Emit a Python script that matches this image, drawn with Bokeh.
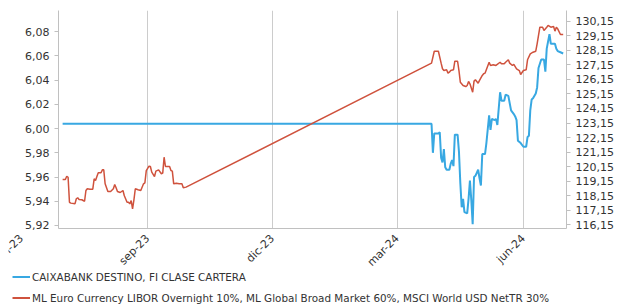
import pandas as pd
from math import pi
from bokeh.plotting import figure
from bokeh.layouts import column
from bokeh.models import (Range1d, LinearAxis, FixedTicker, CustomJSTickFormatter,
                          Legend, LegendItem, Label)
from bokeh.embed import file_html
from bokeh.resources import INLINE

fund_name = "CAIXABANK DESTINO, FI CLASE CARTERA"
bench_name = "ML Euro Currency LIBOR Overnight 10%, ML Global Broad Market 60%, MSCI World USD NetTR 30%"

fund_dates = [
    "2023-07-01", "2024-03-26", "2024-03-27", "2024-03-28", "2024-03-31",
    "2024-04-01", "2024-04-02", "2024-04-03", "2024-04-04", "2024-04-05", "2024-04-06",
    "2024-04-08", "2024-04-09", "2024-04-10", "2024-04-11", "2024-04-12", "2024-04-14",
    "2024-04-15", "2024-04-16", "2024-04-17", "2024-04-18", "2024-04-19", "2024-04-21",
    "2024-04-22", "2024-04-23", "2024-04-24", "2024-04-25", "2024-04-26", "2024-04-27",
    "2024-04-29", "2024-04-30",
    "2024-05-01", "2024-05-02", "2024-05-04", "2024-05-05", "2024-05-07", "2024-05-08",
    "2024-05-09", "2024-05-11", "2024-05-12", "2024-05-13", "2024-05-15", "2024-05-16",
    "2024-05-18", "2024-05-19", "2024-05-21", "2024-05-23", "2024-05-25", "2024-05-26",
    "2024-05-27", "2024-05-28", "2024-05-30",
    "2024-06-01", "2024-06-03", "2024-06-04", "2024-06-05", "2024-06-06", "2024-06-07",
    "2024-06-08", "2024-06-10", "2024-06-11", "2024-06-12", "2024-06-14", "2024-06-16",
    "2024-06-17", "2024-06-18", "2024-06-19", "2024-06-20", "2024-06-21", "2024-06-23",
    "2024-06-24", "2024-06-25", "2024-06-26", "2024-06-28", "2024-06-30",
]
fund_values = [
    6.004, 6.004, 5.980, 5.996, 5.996,
    5.997, 5.976, 5.972, 5.983, 5.968, 5.966,
    5.966, 5.971, 5.974, 5.969, 5.995, 5.995,
    5.981, 5.955, 5.935, 5.942, 5.931, 5.930,
    5.942, 5.957, 5.941, 5.921, 5.960, 5.961,
    5.966, 5.959,
    5.953, 5.979, 5.979, 5.988, 6.011, 5.999,
    6.008, 6.007, 6.008, 6.003, 6.030, 6.023,
    6.023, 6.028, 6.027, 6.015, 6.012, 6.010,
    6.007, 5.990, 5.988,
    5.985, 5.985, 5.993, 5.994, 6.015, 6.024,
    6.025, 6.029, 6.034, 6.050, 6.057, 6.057,
    6.047, 6.066, 6.072, 6.078, 6.070, 6.070,
    6.070, 6.066, 6.064, 6.063, 6.062,
]

bench_dates = [
    "2023-07-01", "2023-07-03", "2023-07-04", "2023-07-05", "2023-07-06", "2023-07-07",
    "2023-07-10", "2023-07-11", "2023-07-12", "2023-07-13", "2023-07-15", "2023-07-17",
    "2023-07-18", "2023-07-19", "2023-07-21", "2023-07-23", "2023-07-24", "2023-07-25",
    "2023-07-26", "2023-07-27", "2023-07-29", "2023-07-30", "2023-07-31",
    "2023-08-01", "2023-08-03", "2023-08-05", "2023-08-07", "2023-08-08", "2023-08-09",
    "2023-08-10", "2023-08-12", "2023-08-14", "2023-08-15", "2023-08-17", "2023-08-18",
    "2023-08-19", "2023-08-20", "2023-08-21", "2023-08-22", "2023-08-23", "2023-08-25",
    "2023-08-27", "2023-08-29", "2023-08-30", "2023-08-31",
    "2023-09-02", "2023-09-03", "2023-09-04", "2023-09-06", "2023-09-07", "2023-09-09",
    "2023-09-11", "2023-09-12", "2023-09-13", "2023-09-14", "2023-09-17", "2023-09-18",
    "2023-09-19", "2023-09-20", "2023-09-22", "2023-09-24", "2023-09-26", "2023-09-27",
    "2023-09-29",
    "2024-03-26", "2024-03-28", "2024-03-31",
    "2024-04-02", "2024-04-03", "2024-04-04", "2024-04-06", "2024-04-07", "2024-04-08",
    "2024-04-09", "2024-04-11", "2024-04-12", "2024-04-14", "2024-04-15", "2024-04-16",
    "2024-04-18", "2024-04-20", "2024-04-21", "2024-04-22", "2024-04-23", "2024-04-25",
    "2024-04-26", "2024-04-27", "2024-04-29", "2024-04-30",
    "2024-05-02", "2024-05-03", "2024-05-04", "2024-05-07", "2024-05-08", "2024-05-10",
    "2024-05-12", "2024-05-15", "2024-05-16", "2024-05-18", "2024-05-19", "2024-05-21",
    "2024-05-22", "2024-05-24", "2024-05-25", "2024-05-27", "2024-05-29", "2024-05-30",
    "2024-06-01", "2024-06-03", "2024-06-04", "2024-06-06", "2024-06-08", "2024-06-10",
    "2024-06-11", "2024-06-13", "2024-06-15", "2024-06-16", "2024-06-18", "2024-06-19",
    "2024-06-21", "2024-06-23", "2024-06-24", "2024-06-25", "2024-06-26", "2024-06-28",
    "2024-06-30",
]
bench_values = [
    119.27, 119.27, 119.49, 119.42, 117.70, 117.64,
    117.59, 117.94, 118.01, 117.89, 117.87, 117.77,
    118.51, 118.63, 118.60, 118.60, 119.31, 119.20,
    119.47, 119.73, 119.73, 119.93, 119.93,
    118.97, 118.44, 118.44, 118.63, 118.92, 118.70,
    118.44, 118.37, 118.51, 118.15, 117.70, 117.70,
    117.59, 117.82, 117.25, 117.87, 118.63, 118.56,
    118.51, 118.97, 119.04, 119.88,
    120.18, 120.16, 119.77, 119.47, 119.84, 119.93,
    119.66, 119.70, 120.80, 120.16, 120.16, 119.88,
    119.84, 118.97, 119.01, 118.97, 118.97, 118.70,
    118.74,
    127.27, 128.09, 128.09,
    127.27, 126.88, 126.76, 126.81, 126.58, 126.65,
    126.76, 126.81, 127.40, 127.40, 126.76, 125.96,
    125.73, 125.66, 125.73, 126.01, 125.85, 125.27,
    126.03, 126.12, 125.89, 126.08,
    126.42, 126.54, 126.58, 127.33, 127.11, 127.16,
    127.11, 127.33, 127.22, 127.22, 127.33, 127.50,
    127.27, 127.11, 127.18, 126.88, 126.76, 126.49,
    126.76, 126.81, 127.50, 127.91, 128.02, 128.09,
    128.60, 129.74, 129.74, 129.51, 129.74, 129.86,
    129.74, 129.79, 129.47, 129.74, 129.63, 129.24,
    129.24,
]
assert len(fund_dates) == len(fund_values)
assert len(bench_dates) == len(bench_values)

x_tick_dates = ["2023-06-01", "2023-09-01", "2023-12-01", "2024-03-01", "2024-06-01"]
x_tick_labels = ["jun-23", "sep-23", "dic-23", "mar-24", "jun-24"]
left_ticks = [5.92, 5.94, 5.96, 5.98, 6.00, 6.02, 6.04, 6.06, 6.08]
right_ticks = [116.15, 117.15, 118.15, 119.15, 120.15, 121.15, 122.15, 123.15,
               124.15, 125.15, 126.15, 127.15, 128.15, 129.15, 130.15]


def ms(s):
    return pd.Timestamp(s).value / 1e6


FONT = "DejaVu Sans"
BLUE = "#38a8e2"
RED = "#cf523d"
GRID = "#cccccc"
AXIS = "#c0c0c0"
TXT = "#333333"

tick_ms = [ms(d) for d in x_tick_dates]
x0, x1 = ms("2023-06-28"), ms("2024-07-02 10:00")
y_left = Range1d(5.9175, 6.0975)

# layout in pixels
W, H = 610, 304            # chart canvas (starts 8px in, like the original container)
B_LEFT, B_RIGHT, B_TOP, B_BOTTOM = 50, 52, 10, 76
FRAME_W = W - B_LEFT - B_RIGHT
STANDOFF = 8

p = figure(width=W, height=H, x_axis_type="datetime",
           x_range=Range1d(x0, x1), y_range=y_left, margin=(0, 0, 0, 8),
           output_backend="svg", toolbar_location=None,
           min_border_left=B_LEFT, min_border_right=B_RIGHT,
           min_border_top=B_TOP, min_border_bottom=B_BOTTOM)
p.outline_line_color = None
p.background_fill_color = "white"
p.border_fill_color = "white"
if "frame_align" in p.properties():
    p.frame_align = False

p.extra_y_ranges = {"bench": Range1d(115.895, 130.89)}

r_fund = p.line(pd.to_datetime(fund_dates), fund_values, line_color=BLUE, line_width=2)
r_bench = p.line(pd.to_datetime(bench_dates), bench_values, line_color=RED, line_width=1.5,
                 y_range_name="bench")

xt = FixedTicker(ticks=tick_ms)
p.xaxis.ticker = xt
p.xaxis.formatter = CustomJSTickFormatter(
    args=dict(tick_vals=tick_ms, tick_labels=x_tick_labels),
    code="const i = tick_vals.indexOf(tick); return i >= 0 ? tick_labels[i] : '';")
p.xgrid.ticker = xt
p.xgrid.grid_line_color = GRID
p.ygrid.visible = False

comma_fmt = "return tick.toFixed(2).replace('.', ',');"
p.yaxis.ticker = FixedTicker(ticks=left_ticks)
p.yaxis.formatter = CustomJSTickFormatter(code=comma_fmt)

ax_r = LinearAxis(y_range_name="bench", ticker=FixedTicker(ticks=right_ticks),
                  formatter=CustomJSTickFormatter(code=comma_fmt))
p.add_layout(ax_r, "right")

for ax in p.axis:
    ax.axis_line_color = AXIS
    ax.major_tick_line_color = AXIS
    ax.minor_tick_line_color = None
    ax.major_tick_in = 0
    ax.major_tick_out = 4
    ax.major_label_standoff = 5
    ax.major_label_text_font = FONT
    ax.major_label_text_font_size = "11px"
    ax.major_label_text_color = TXT

p.xaxis.major_tick_line_color = None
p.xaxis.major_tick_out = 0
p.xaxis.major_label_standoff = STANDOFF
p.xaxis.major_label_orientation = pi / 4

# transparent strip laid over the bottom of the chart: legend + the first month label,
# whose x scale continues the chart's time scale beyond the plotted period
ms_per_px = (x1 - x0) / FRAME_W
strip_h = B_BOTTOM
lg = figure(width=W + 8, height=strip_h,
            x_range=Range1d(x0 - (B_LEFT + 8 - 8) * ms_per_px, x0 + (W - B_LEFT) * ms_per_px),
            y_range=Range1d(-strip_h, 0), margin=(-strip_h, 0, 0, 0),
            output_backend="svg", toolbar_location=None,
            x_axis_location=None, y_axis_location=None,
            min_border_left=8, min_border_right=0, min_border_top=0, min_border_bottom=0)
lg.outline_line_color = None
lg.background_fill_alpha = 0
lg.border_fill_alpha = 0
lg.grid.visible = False
if "frame_align" in lg.properties():
    lg.frame_align = False

lg.add_layout(Label(x=tick_ms[0], y=-STANDOFF, text=x_tick_labels[0], angle=pi / 4,
                    text_align="right", text_baseline="middle", text_font=FONT,
                    text_font_size="11px", text_color=TXT))

k_fund = lg.line([0], [float("nan")], line_color=BLUE, line_width=2)
k_bench = lg.line([0], [float("nan")], line_color=RED, line_width=2)
legend = Legend(items=[LegendItem(label=fund_name, renderers=[k_fund]),
                       LegendItem(label=bench_name, renderers=[k_bench])],
                location=(4, -4), orientation="vertical", margin=0, padding=0,
                spacing=0, glyph_width=18, glyph_height=21, label_height=21,
                label_standoff=2, label_text_font=FONT, label_text_font_size="10.4px",
                label_text_color=TXT, background_fill_alpha=0, border_line_alpha=0)
lg.add_layout(legend)

open("out.html", "w").write(file_html(column(p, lg, spacing=0), INLINE))
